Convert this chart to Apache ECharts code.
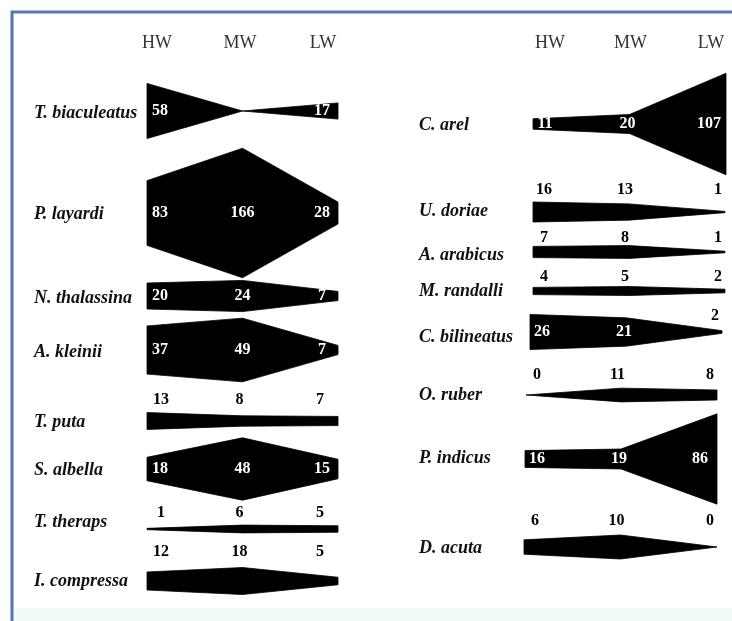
<!DOCTYPE html>
<html>
<head>
<meta charset="utf-8">
<script src="https://cdn.jsdelivr.net/npm/echarts@6/dist/echarts.min.js"></script>
<style>
  html, body { margin: 0; padding: 0; background: #fff; }
  #main { width: 732px; height: 621px; }
</style>
</head>
<body>
<div id="main"></div>
<script>
// sampling stations (tide levels)
const stations = ['HW', 'MW', 'LW'];

// left panel
const leftSpecies = ['T. biaculeatus', 'P. layardi', 'N. thalassina', 'A. kleinii',
  'T. puta', 'S. albella', 'T. theraps', 'I. compressa'];
const leftCounts = [
  [58, null, 17],
  [83, 166, 28],
  [20, 24, 7],
  [37, 49, 7],
  [13, 8, 7],
  [18, 48, 15],
  [1, 6, 5],
  [12, 18, 5]
];

// right panel
const rightSpecies = ['C. arel', 'U. doriae', 'A. arabicus', 'M. randalli',
  'C. bilineatus', 'O. ruber', 'P. indicus', 'D. acuta'];
const rightCounts = [
  [11, 20, 107],
  [16, 13, 1],
  [7, 8, 1],
  [4, 5, 2],
  [26, 21, 2],
  [0, 11, 8],
  [16, 19, 86],
  [6, 10, 0]
];

// layout of each kite row: centre y, thickness scale, label placement
const IN = ['in', 'in', 'in'], UP = ['up', 'up', 'up'];
const leftRows = [
  { cy: 111, f: 0.95, lbl: IN, ny: 113 },
  { cy: 213, f: 0.78, lbl: IN, ny: 214 },
  { cy: 296, f: 1.3, lbl: IN, ny: 298 },
  { cy: 350, f: 1.3, lbl: IN, ny: 352 },
  { cy: 421, f: 1.3, lbl: UP, lift: 21, ny: 422 },
  { cy: 469, f: 1.3, lbl: IN, ny: 470 },
  { cy: 529, f: 1.3, lbl: UP, lift: 16, ny: 522 },
  { cy: 581, f: 1.5, lbl: UP, lift: 29, ny: 581 }
];
const rightRows = [
  { cy: 124, f: 0.95, lbl: IN, ny: 125, x0: 533, x1: 726 },
  { cy: 212, f: 1.25, lbl: UP, lift: 22, ny: 211, x0: 533, x1: 725 },
  { cy: 252, f: 1.6, lbl: UP, lift: 14, ny: 255, x0: 533, x1: 725 },
  { cy: 291, f: 1.8, lbl: UP, lift: 14, ny: 291, x0: 533, x1: 725 },
  { cy: 332, f: 1.35, lbl: ['in', 'in', 'up'], lift: 16, ny: 337, x0: 530, x1: 722 },
  { cy: 395, f: 1.25, lbl: UP, lift: 20, ny: 395, x0: 526, x1: 717 },
  { cy: 459, f: 1.05, lbl: IN, ny: 458, x0: 525, x1: 717 },
  { cy: 547, f: 2.4, lbl: UP, lift: 26, ny: 548, x0: 524, x1: 717 }
];

const leftPanel = { x0: 147, x1: 338, nameX: 34, head: [157, 323], dxIn: [13, 0, -16], dxUp: [14, -3, -18] };
const rightPanel = { nameX: 419, head: [550, 711], dxIn: [12, -2, -17], dxUp: [11, -4, -7] };

const SERIF = '"Liberation Serif", "DejaVu Serif", serif';
const grids = [], xAxes = [], yAxes = [], series = [], graphics = [];

function addHeader(panel) {
  const i = grids.length;
  grids.push({ left: panel.head[0], width: panel.head[1] - panel.head[0], top: 62, height: 10 });
  xAxes.push({
    gridIndex: i, type: 'category', data: stations, boundaryGap: false, position: 'top',
    axisLine: { show: false }, axisTick: { show: false }, splitLine: { show: false },
    axisLabel: { margin: 10, color: '#333', fontFamily: SERIF, fontSize: 18 }
  });
  yAxes.push({ gridIndex: i, type: 'value', show: false });
}

function addRow(name, counts, row, panel) {
  const i = grids.length;
  const vals = counts.map(v => (v == null ? 0 : v));
  // grid just tall enough for the widest point of this kite
  const H = Math.max(40, Math.ceil(Math.max(...vals) * row.f) + 10);
  const M = H / row.f;
  const x0 = row.x0 || panel.x0, x1 = row.x1 || panel.x1;
  grids.push({ left: x0, width: x1 - x0, top: row.cy - H / 2, height: H });
  xAxes.push({ gridIndex: i, type: 'category', data: stations, boundaryGap: false, show: false });
  yAxes.push({ gridIndex: i, type: 'value', min: -M, max: M, show: false });

  series.push({
    type: 'custom',
    xAxisIndex: i,
    yAxisIndex: i,
    silent: true,
    clip: false,
    data: vals.map((v, k) => [k, v]),
    renderItem: function (params, api) {
      const k = params.dataIndex;
      const children = [];
      if (k === 0) {
        const top = vals.map((v, j) => api.coord([j, v]));
        const bot = vals.map((v, j) => api.coord([j, -v])).reverse();
        children.push({
          type: 'polygon',
          shape: { points: top.concat(bot) },
          style: { fill: '#000', stroke: '#000', lineWidth: 0.8 }
        });
      }
      const v = counts[k];
      if (v != null) {
        const mode = row.lbl[k];
        const p = api.coord([k, 0]);
        const dx = (mode === 'in' ? panel.dxIn : panel.dxUp)[k];
        children.push({
          type: 'text',
          x: p[0] + dx,
          y: p[1] - (mode === 'in' ? 0 : row.lift),
          style: {
            text: String(v),
            fill: mode === 'in' ? '#fff' : '#000',
            font: 'bold 16px ' + SERIF,
            align: 'center',
            verticalAlign: 'middle'
          }
        });
      }
      return { type: 'group', children: children };
    }
  });

  graphics.push({
    type: 'text',
    x: panel.nameX,
    y: row.ny,
    style: {
      text: name,
      fill: '#111',
      font: 'italic bold 18px ' + SERIF,
      verticalAlign: 'middle'
    }
  });
}

addHeader(leftPanel);
addHeader(rightPanel);
leftSpecies.forEach((s, k) => addRow(s, leftCounts[k], leftRows[k], leftPanel));
rightSpecies.forEach((s, k) => addRow(s, rightCounts[k], rightRows[k], rightPanel));

// frame round the figure
graphics.unshift(
  { type: 'rect', z: -2, shape: { x: 14, y: 608, width: 720, height: 14 }, style: { fill: '#f3fbf8' } },
  { type: 'rect', z: -1, shape: { x: 12, y: 12, width: 740, height: 640 },
    style: { fill: 'none', stroke: '#5677ad', lineWidth: 3 } }
);

const chart = echarts.init(document.getElementById('main'));
chart.setOption({
  animation: false,
  backgroundColor: '#fff',
  grid: grids,
  xAxis: xAxes,
  yAxis: yAxes,
  series: series,
  graphic: graphics
});
</script>
</body>
</html>
